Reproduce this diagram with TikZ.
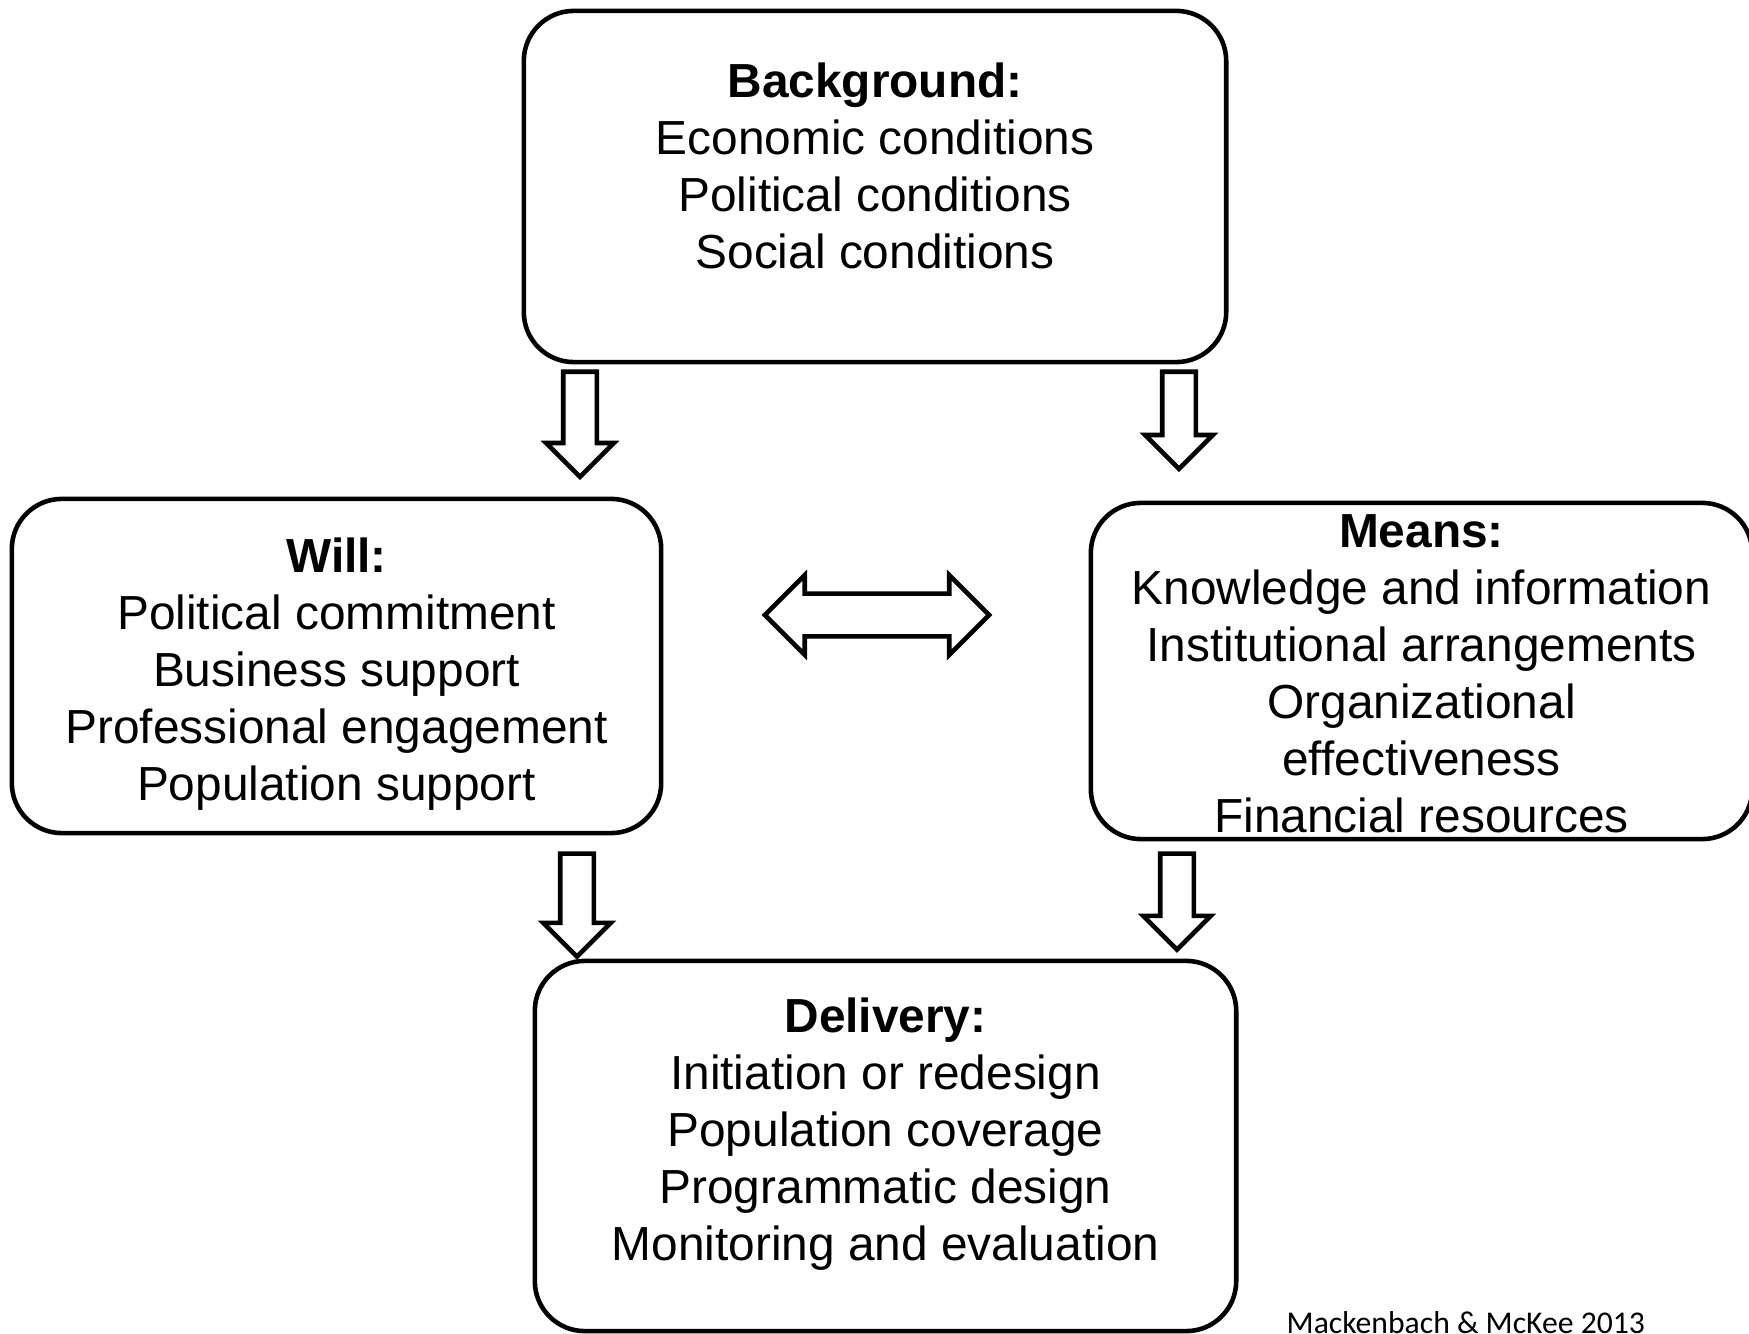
\documentclass[tikz,border=0pt]{standalone}
\usepackage{fontspec}
\setmainfont{Liberation Sans}
\newfontfamily\citefont{Carlito}
\usepackage{tikz}
\usetikzlibrary{shapes.arrows, positioning, calc}
\tikzset{
  frame/.style    = {rectangle, rounded corners=0.5cm, draw, line width=1.3pt,
                     inner sep=0pt},
  txt/.style      = {align=center, inner sep=0pt,
                     font=\fontsize{13.6}{16.2}\selectfont},
  downarr/.style  = {single arrow, draw, line width=1.3pt, inner sep=0.145cm,
                     single arrow head extend=0.17cm, shape border rotate=270,
                     anchor=tail},
  bothways/.style = {double arrow, draw, line width=1.3pt, inner sep=0.19cm,
                     double arrow head extend=0.185cm, minimum height=2.24cm},
}
\begin{document}
\begin{tikzpicture}[x=0.01cm, y=0.01cm]
  \useasboundingbox (0,0) rectangle (1749,1333);

  % the four boxes
  \node[frame, minimum width=7.02cm, minimum height=3.51cm] (bg) at (875,1146.5) {};
  \node[frame, minimum width=6.49cm, minimum height=3.34cm] (will) at (336.5,667) {};
  \node[frame, minimum width=6.61cm, minimum height=3.36cm] (means) at (1421.5,662) {};
  \node[frame, minimum width=7.01cm, minimum height=3.70cm] (deliv) at (885.5,187) {};

  \node[txt, yshift=0.205cm] (bgtxt) at (bg.center) {\textbf{Background:}\\Economic conditions\\Political conditions\\Social conditions};
  \node[txt, yshift=-0.08cm] (willtxt) at (will.center) {\textbf{Will:}\\Political commitment\\Business support\\Professional engagement\\Population support};
  \node[txt, yshift=-0.03cm] (meanstxt) at (means.center) {\textbf{Means:}\\Knowledge and information\\Institutional arrangements\\Organizational\\effectiveness\\Financial resources};
  \node[txt, yshift=0.115cm] (delivtxt) at (deliv.center) {\textbf{Delivery:}\\Initiation or redesign\\Population coverage\\Programmatic design\\Monitoring and evaluation};

  % block arrows
  \node[downarr, minimum height=1.05cm] (bgwill) at (580,963.5) {};
  \node[downarr, minimum height=0.97cm] (bgmeans) at (1179,963.5) {};
  \node[downarr, minimum height=1.03cm] (willdeliv) at (577,481.7) {};
  \node[downarr, minimum height=0.96cm] (meansdeliv) at (1177,481.7) {};
  \node[bothways] (willmeans) at (877,718) {};

  \node[anchor=base west, inner sep=0pt, font=\citefont\fontsize{9}{10}\selectfont] (cite) at (1286,0) {Mackenbach \& McKee 2013};
\end{tikzpicture}
\end{document}
